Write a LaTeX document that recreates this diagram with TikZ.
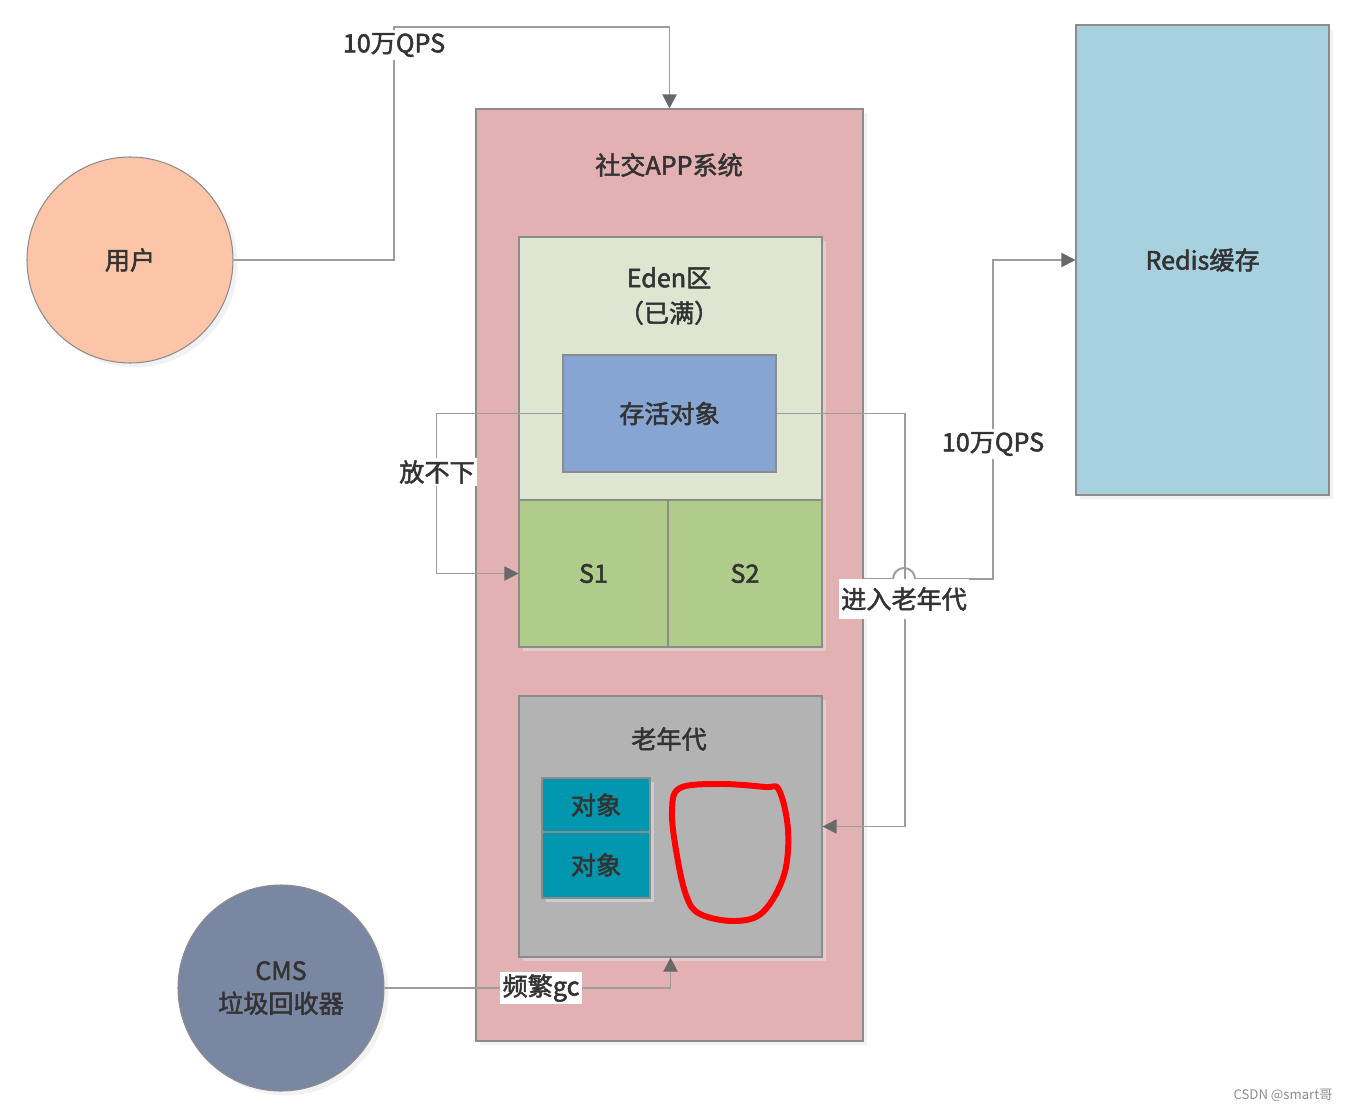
\documentclass[tikz,border=0pt]{standalone}
\usepackage{fontspec}
\setmainfont{Noto Sans CJK SC}[FakeBold=2]
\newfontfamily\markfont{Noto Sans CJK SC}
\usetikzlibrary{arrows.meta,shadows}

\definecolor{userfill}{HTML}{FDC5A8}
\definecolor{cmsfill}{HTML}{7A87A3}
\definecolor{appfill}{HTML}{E3B1B1}
\definecolor{edenfill}{HTML}{DCE6D0}
\definecolor{alivefill}{HTML}{87A5D2}
\definecolor{survfill}{HTML}{B0CC8A}
\definecolor{oldfill}{HTML}{B3B3B3}
\definecolor{objfill}{HTML}{0096AD}
\definecolor{redisfill}{HTML}{A8D1E0}
\definecolor{linegray}{HTML}{9C9C9C}
\definecolor{tipgray}{HTML}{686868}
\definecolor{textgray}{HTML}{333333}

\newcommand{\px}{0.02cm}

\tikzset{
  box/.style={draw=black!45, line width=0.6pt, inner sep=0pt, text=textgray,
    font=\fontsize{14.3}{17}\selectfont,
    drop shadow={shadow xshift=2.5pt, shadow yshift=-2.5pt, fill=black!10}},
  ball/.style={box, circle, minimum size=206*\px, align=center,
    font=\fontsize{14.3}{18.7}\selectfont},
  title/.style={text=textgray, font=\fontsize{14.3}{20}\selectfont, align=center},
  tag/.style={fill=white, inner sep=1.5pt, text=textgray, font=\fontsize{14.3}{17}\selectfont},
  conn/.style={draw=linegray, line width=1.1pt,
    -{Triangle[length=8pt,width=8pt,color=tipgray]}},
}

\begin{document}
\begin{tikzpicture}[x=0.02cm,y=-0.02cm]
    \useasboundingbox (0,0) rectangle (1348,1111);

    % circles
    \node[ball, fill=userfill] (user) at (130,260) {用户};
    \node[ball, fill=cmsfill] (cms) at (281,988) {CMS\\垃圾回收器};

    % app system
    \node[box, fill=appfill, minimum width=387*\px, minimum height=932*\px] (app) at (669.5,575) {};
    \node[title] (apptitle) at (669,165) {社交APP系统};

    \node[box, fill=edenfill, minimum width=303*\px, minimum height=263*\px] (eden) at (670.5,368.5) {};
    \node[title] (edentitle) at (669,296) {Eden区\\（已满）};
    \node[box, fill=alivefill, minimum width=213*\px, minimum height=117*\px] (alive) at (669.5,413.5) {存活对象};

    \node[box, fill=survfill, minimum width=149*\px, minimum height=147*\px] (s1) at (593.5,573.5) {S1};
    \node[box, fill=survfill, minimum width=154*\px, minimum height=147*\px] (s2) at (745,573.5) {S2};

    \node[box, fill=oldfill, minimum width=303*\px, minimum height=261*\px] (old) at (670.5,826.5) {};
    \node[title] (oldtitle) at (669,739) {老年代};
    \node[box, fill=objfill, minimum width=108*\px, minimum height=54*\px] (obja) at (596,805) {对象};
    \node[box, fill=objfill, minimum width=108*\px, minimum height=66*\px] (objb) at (596,865) {对象};

    % hand drawn mark
    \draw[red, line width=3.4pt, line join=round] plot[smooth cycle, tension=0.6] coordinates
      {(680,788) (720,784) (765,787) (779,790) (788,830) (784,875) (763,912)
       (735,921) (700,914) (686,895) (676,850) (672,810)};

    % cache
    \node[box, fill=redisfill, minimum width=253*\px, minimum height=470*\px] (redis) at (1202.5,260) {Redis缓存};

    % connectors
    \draw[conn] (user.east) -| (394,27) -| (app.north);
    \node[tag] (qpsa) at (394,45) {10万QPS};

    \draw[conn] (alive.west) -- ++(-126,0) |- (s1.west);
    \node[tag] (full) at (437,472) {放不下};

    \draw[conn] (alive.east) -- ++(128,0) |- (old.east);

    \draw[conn] (app.east) ++(0,4) -- (893,579) arc[start angle=180, end angle=360, radius=11]
      -- (993,579) |- (redis.west);
    \node[tag] (qpsb) at (993,444) {10万QPS};
    \node[tag, minimum height=40*\px] (promote) at (904,599) {进入老年代};

    \draw[conn] (cms.east) -| (old.south);
    \node[tag] (gc) at (541,988) {频繁gc};

    \node[text=black!45, font=\markfont\fontsize{7.5}{9}\selectfont] (mark) at (1283,1095) {CSDN @smart哥};
\end{tikzpicture}
\end{document}
